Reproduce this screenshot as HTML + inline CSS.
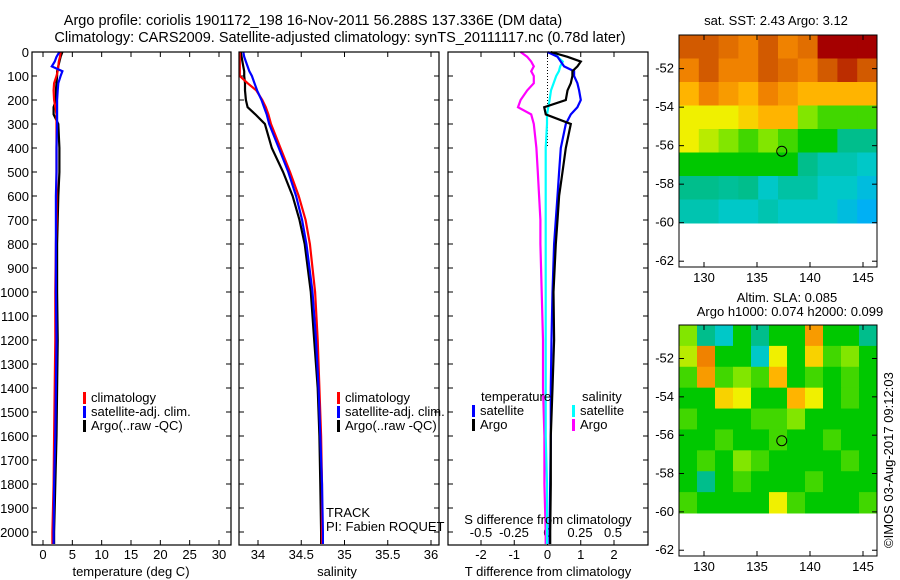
<!DOCTYPE html>
<html><head><meta charset="utf-8">
<style>
body{margin:0;background:#fff;}
svg{display:block;font-family:"Liberation Sans",sans-serif;}
text{font-size:13px;fill:#000;}
.big{font-size:14.5px;}
</style></head>
<body>
<svg id="fig" width="900" height="580" viewBox="0 0 900 580">
<text class="big" x="313" y="25" text-anchor="middle">Argo profile: coriolis 1901172_198 16-Nov-2011 56.288S 137.336E (DM data)</text>
<text class="big" x="340" y="42" text-anchor="middle">Climatology: CARS2009. Satellite-adjusted climatology: synTS_20111117.nc (0.78d later)</text>
<text x="776" y="25" text-anchor="middle">sat. SST: 2.43 Argo: 3.12</text>
<text x="787" y="302" text-anchor="middle">Altim. SLA: 0.085</text>
<text x="790" y="316" text-anchor="middle">Argo h1000: 0.074 h2000: 0.099</text>
<text transform="translate(893,548) rotate(-90)">©IMOS 03-Aug-2017 09:12:03</text>
</svg>
<script>
// depth levels (dbar)
const depths=[0,20,40,60,80,100,130,160,200,230,260,300,400,500,600,700,800,1000,1200,1400,1600,1800,2000,2050];
const tempClim=[3.0,2.9,2.7,2.6,2.5,2.3,1.9,1.8,1.9,2.1,2.3,2.3,2.3,2.3,2.3,2.3,2.2,2.1,2.1,2.0,1.9,1.8,1.6,1.6];
const tempSat=[2.8,2.3,2.0,1.5,3.3,3.0,2.6,2.5,2.4,2.4,2.4,2.4,2.3,2.3,2.2,2.2,2.2,2.2,2.3,2.2,2.1,1.9,1.8,1.8];
const tempArgo=[3.3,3.0,2.8,2.6,2.4,2.4,2.3,2.2,2.2,1.8,1.8,2.6,2.8,2.8,2.6,2.5,2.4,2.4,2.5,2.4,2.3,2.1,1.9,1.9];
const salClim=[33.79,33.79,33.79,33.79,33.79,33.79,33.88,33.98,34.05,34.09,34.12,34.15,34.26,34.37,34.47,34.55,34.60,34.66,34.69,34.71,34.73,34.74,34.74,34.74];
const salSat=[33.83,33.84,33.86,33.88,33.90,33.93,33.96,33.99,34.04,34.07,34.10,34.13,34.24,34.35,34.44,34.51,34.56,34.63,34.67,34.70,34.72,34.74,34.75,34.75];
const salArgo=[33.80,33.81,33.82,33.83,33.84,33.84,33.85,33.85,33.86,33.88,33.97,34.08,34.16,34.29,34.40,34.48,34.54,34.61,34.65,34.69,34.71,34.72,34.73,34.73];
const dTSat=[0.0,0.3,0.4,0.5,0.8,0.8,0.9,0.95,1.0,0.9,0.7,0.55,0.4,0.35,0.3,0.25,0.2,0.15,0.12,0.1,0.1,0.08,0.06,0.06];
const dTArgo=[0.1,0.6,1.0,0.9,0.75,0.75,0.7,0.6,0.55,-0.1,-0.05,0.7,0.55,0.45,0.35,0.3,0.25,0.18,0.2,0.15,0.1,0.1,0.08,0.08];
const dSSat=[0.05,0.08,0.12,0.10,0.09,0.07,0.05,0.03,0.02,0.01,0.0,0.0,-0.01,-0.01,-0.01,-0.01,-0.01,-0.01,-0.01,-0.01,-0.01,0.0,0.0,0.0];
const dSArgo=[-0.2,-0.15,-0.12,-0.1,-0.12,-0.1,-0.1,-0.15,-0.2,-0.22,-0.12,-0.1,-0.08,-0.07,-0.06,-0.05,-0.05,-0.04,-0.03,-0.03,-0.02,-0.02,-0.01,-0.01];
const depthTicks=[0,100,200,300,400,500,600,700,800,900,1000,1100,1200,1300,1400,1500,1600,1700,1800,1900,2000];
const tTicks=[0,5,10,15,20,25,30];
const sTicks=[34,34.5,35,35.5,36];
const dtTicks=[-2,-1,0,1,2];
const dsTicks=[-0.5,-0.25,0,0.25,0.5];
const dsTickLabels=["-0.5","-0.25","0","0.25","0.5"];
// map grids (rows north->south, cols west->east)
const sstGrid=[
[8,8,7.5,7,8,7,7.5,9,9,9],
[7,8,7,7,8,7.5,7,8,8.5,8],
[6,7,6.5,6,7,6.5,6,6,6,6],
[5,5,5,5.5,6,6,4,3.5,3.5,3.5],
[5,4.5,4,3.5,4,3.5,3,3,2.5,2.5],
[3,3,3,3,3,3,2.5,2.2,2.2,2],
[2.5,2.5,2.4,2.5,2,2.3,2.3,2,2,1.8],
[2.2,2.2,2,2,2.2,2,2,2,1.8,1.6]];
const slaGrid=[
[4,2.5,2,3,2.5,3,3,6.5,3,3,2.5],
[4.5,7,3,3,2,5,3,5.5,3.5,4,3],
[3.5,6.5,3.5,4,3.5,6,3,3.5,3,3.5,3],
[3,3,5.5,5,3,3,6,5,3,3.5,3],
[3.5,3,3,3,3.5,3.5,4,3,3,3,3],
[3,3,3.5,3,3,3.5,3,3,3.5,3,3],
[3,3.5,3,4,3.5,3,3,3,3,3.5,3],
[3,2.5,3,3.5,3,3,3,3.5,3,3,3],
[3.5,3,3,3,3,5,3.5,3,3,3,3.5]];
const lonTicks=[130,135,140,145];
const latTicks=[-52,-54,-56,-58,-60,-62];
const argoPos=[137.336,-56.288];

const NS='http://www.w3.org/2000/svg';
const svg=document.getElementById('fig');
function mk(tag,attrs,parent){const e=document.createElementNS(NS,tag);for(const k in attrs)e.setAttribute(k,attrs[k]);(parent||svg).appendChild(e);return e;}
const TOP=52,BOT=545;
function yD(d){return TOP+d*0.24;}
function linScale(d0,d1,r0,r1){return v=>r0+(v-d0)/(d1-d0)*(r1-r0);}

function panel(name,x0,x1,xs,ticks,labels,showDepth){
  const g=mk('g',{});
  
  
  ticks.forEach((t,i)=>{const x=xs(t);
    mk('line',{x1:x,x2:x,y1:BOT,y2:BOT-5,stroke:'#000'},g);
    mk('line',{x1:x,x2:x,y1:TOP,y2:TOP+5,stroke:'#000'},g);
    if(labels){const tx=mk('text',{x:x,y:BOT+14,'text-anchor':'middle'},g);tx.textContent=labels[i];}
  });
  depthTicks.forEach(d=>{const y=yD(d);
    mk('line',{x1:x0,x2:x0+5,y1:y,y2:y,stroke:'#000'},g);
    mk('line',{x1:x1,x2:x1-5,y1:y,y2:y,stroke:'#000'},g);
    if(showDepth){const tx=mk('text',{x:x0-3,y:y+5,'text-anchor':'end'},g);tx.textContent=d;}
  });
  return g;
}
function series(g,name,vals,xs,color){
  const p=mk('polyline',{fill:'none',stroke:color,'stroke-width':2.2,points:vals.map((v,i)=>xs(v).toFixed(1)+','+yD(depths[i]).toFixed(1)).join(' ')},g);
  
  
}
function legend(g,x,y,items){
  items.forEach((it,i)=>{
    mk('rect',{x:x,y:y+i*14-10,width:3,height:12,fill:it[1]},g);
    const t=mk('text',{x:x+8,y:y+i*14},g);t.textContent=it[0];
  });
}
function box(g,x0,x1){mk('rect',{x:x0,y:TOP,width:x1-x0,height:BOT-TOP,fill:'none',stroke:'#000','stroke-width':1.2},g);}

// Panel 1 temperature
const xT=linScale(0,30,43,219);
const g1=panel('temperature-panel',32,231,xT,tTicks,tTicks.map(String),true);
series(g1,'temp-argo-line',tempArgo,xT,'#000');
series(g1,'temp-climatology-line',tempClim,xT,'#f00');
series(g1,'temp-satellite-line',tempSat,xT,'#00f');
box(g1,32,231);
legend(g1,83,402,[['climatology','#f00'],['satellite-adj. clim.','#00f'],['Argo(..raw -QC)','#000']]);
let t=mk('text',{x:131,y:576,'text-anchor':'middle'},g1);t.textContent='temperature (deg C)';

// Panel 2 salinity
const xS=linScale(34,36,258,431);
const g2=panel('salinity-panel',239,439,xS,sTicks,sTicks.map(String),false);
series(g2,'sal-argo-line',salArgo,xS,'#000');
series(g2,'sal-climatology-line',salClim,xS,'#f00');
series(g2,'sal-satellite-line',salSat,xS,'#00f');
box(g2,239,439);
legend(g2,337,402,[['climatology','#f00'],['satellite-adj. clim.','#00f'],['Argo(..raw -QC)','#000']]);
t=mk('text',{x:326,y:517},g2);t.textContent='TRACK';
t=mk('text',{x:326,y:531},g2);t.textContent='PI: Fabien ROQUET';
t=mk('text',{x:337,y:576,'text-anchor':'middle'},g2);t.textContent='salinity';

// Panel 3 differences
const xDT=linScale(-2,2,481,614);
const xDS=linScale(-0.5,0.5,481,613);
const g3=panel('difference-panel',448,648,xDT,dtTicks,dtTicks.map(String),false);
dsTicks.forEach((v,i)=>{const tx=mk('text',{x:xDS(v),y:537,'text-anchor':'middle'},g3);tx.textContent=dsTickLabels[i];});
mk('line',{x1:xDT(0),x2:xDT(0),y1:TOP,y2:yD(400),stroke:'#000','stroke-dasharray':'1,2'},g3);
series(g3,'dS-argo-line',dSArgo,xDS,'#f0f');
series(g3,'dS-satellite-line',dSSat,xDS,'#0ff');
series(g3,'dT-satellite-line',dTSat,xDT,'#00f');
series(g3,'dT-argo-line',dTArgo,xDT,'#000');
box(g3,448,648);
t=mk('text',{x:481,y:401},g3);t.textContent='temperature';
t=mk('text',{x:582,y:401},g3);t.textContent='salinity';
legend(g3,472,415,[['satellite','#00f'],['Argo','#000']]);
legend(g3,572,415,[['satellite','#0ff'],['Argo','#f0f']]);
t=mk('text',{x:548,y:524,'text-anchor':'middle'},g3);t.textContent='S difference from climatology';
t=mk('text',{x:548,y:576,'text-anchor':'middle'},g3);t.textContent='T difference from climatology';

// colormap
function cmap(v){
  const stops=[[1.5,[0,170,255]],[2,[0,200,200]],[2.5,[0,190,140]],[3,[0,200,0]],[4,[130,230,0]],[5,[240,240,0]],[6,[255,180,0]],[7,[240,130,0]],[8,[210,90,0]],[9,[165,0,0]]];
  if(v<=stops[0][0])return 'rgb('+stops[0][1]+')';
  for(let i=1;i<stops.length;i++){if(v<=stops[i][0]){const a=stops[i-1],b=stops[i],f=(v-a[0])/(b[0]-a[0]);return 'rgb('+a[1].map((c,j)=>Math.round(c+(b[1][j]-c)*f)).join(',')+')';}}
  return 'rgb('+stops[stops.length-1][1]+')';
}
function map(name,grid,top,bottom,dataBottom){
  const g=mk('g',{});
  
  
  const L=679,R=877;
  const xl=linScale(130,145,704,863);
  const yl=linScale(-52,-62,top+(bottom-top)*0.145,top+(bottom-top)*0.975);
  const rows=grid.length,cols=grid[0].length;
  const cw=(R-L)/cols,ch=(dataBottom-top)/rows;
  grid.forEach((row,r)=>row.forEach((v,c)=>{
    const cell=mk('rect',{x:L+c*cw,y:top+r*ch,width:cw+0.5,height:ch+0.5,fill:cmap(v)},g);
    
    
  }));
  mk('rect',{x:L,y:top,width:R-L,height:bottom-top,fill:'none',stroke:'#000'},g);
  lonTicks.forEach(v=>{const x=xl(v);
    mk('line',{x1:x,x2:x,y1:bottom,y2:bottom-5,stroke:'#000'},g);
    mk('line',{x1:x,x2:x,y1:top,y2:top+5,stroke:'#000'},g);
    const tx=mk('text',{x:x,y:bottom+15,'text-anchor':'middle'},g);tx.textContent=v;});
  latTicks.forEach(v=>{const y=yl(v);
    mk('line',{x1:L,x2:L+5,y1:y,y2:y,stroke:'#000'},g);
    mk('line',{x1:R,x2:R-5,y1:y,y2:y,stroke:'#000'},g);
    const tx=mk('text',{x:L-5,y:y+4,'text-anchor':'end'},g);tx.textContent=v;});
  const m=mk('circle',{cx:xl(argoPos[0]),cy:yl(argoPos[1]),r:5,fill:'none',stroke:'#000'},g);
  
  
}
map('sst-map',sstGrid,35,267,223);
map('sla-map',slaGrid,325,556,513);
</script>
</body></html>
